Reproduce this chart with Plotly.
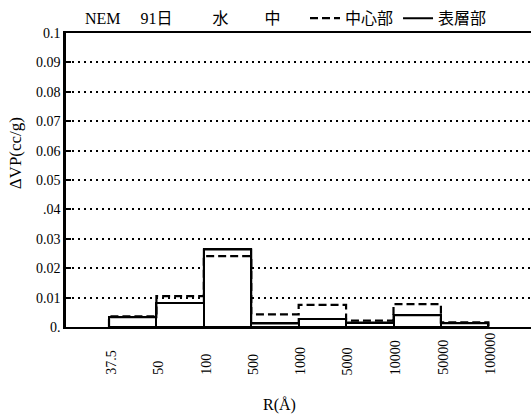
import plotly.graph_objects as go

# Pore-radius bins (boundaries in Å) and pore volume increments per bin
r_labels = ["37.5", "50", "100", "500", "1000", "5000", "10000", "50000", "100000"]
surface_dvp = [0.0033, 0.0082, 0.0264, 0.0012, 0.0027, 0.0015, 0.0040, 0.0013]  # 表層部
core_dvp = [0.0036, 0.0105, 0.0241, 0.0043, 0.0075, 0.0022, 0.0078, 0.0016]     # 中心部

y_tickvals = [0, 0.01, 0.02, 0.03, 0.04, 0.05, 0.06, 0.07, 0.08, 0.09, 0.1]
y_ticktext = ["0.", "0.01", "0.02", "0.03", ".04", "0.05", "0.06", "0.07", "0.08", "0.09", "0.1"]

SERIF = "Liberation Serif, Noto Sans CJK JP, serif"
n_bins = len(surface_dvp)
edges = list(range(n_bins + 1))
centers = [i + 0.5 for i in range(n_bins)]


def step_outline(values):
    # outline of a histogram: up at the first edge, across each bin, down at the last edge
    xs = [edges[0]] + edges[:-1] + [edges[-1]]
    ys = [0] + list(values) + [0]
    return xs, ys


fig = go.Figure()

# hollow bars (white fill hides the grid behind them)
fig.add_trace(go.Bar(
    x=centers, y=surface_dvp, width=1,
    marker=dict(color="white", line=dict(color="black", width=2)),
    showlegend=False, hoverinfo="skip",
))

cx, cy = step_outline(core_dvp)
fig.add_trace(go.Scatter(
    x=cx, y=cy, mode="lines", line_shape="hv", name="中心部",
    line=dict(color="black", width=2.2, dash="8px,4px"),
))

sx, sy = step_outline(surface_dvp)
fig.add_trace(go.Scatter(
    x=sx, y=sy, mode="lines", line_shape="hv", name="表層部",
    line=dict(color="black", width=2),
))

# x labels sit at the bin boundaries, rotated, bottom-aligned
for i, lab in enumerate(r_labels):
    fig.add_annotation(
        x=edges[i] + 0.05, y=-0.17, xref="x", yref="paper",
        text=lab, textangle=-90, showarrow=False,
        xanchor="center", yanchor="bottom",
        font=dict(family=SERIF, size=14, color="black"),
    )

fig.add_annotation(
    x=0.46, y=-0.266, xref="paper", yref="paper", text="R(Å)",
    showarrow=False, xanchor="center", yanchor="middle",
    font=dict(family=SERIF, size=16, color="black"),
)
fig.add_annotation(
    x=-0.108, y=0.59, xref="paper", yref="paper", text="ΔVP(cc/g)",
    textangle=-90, showarrow=False, xanchor="center", yanchor="middle",
    font=dict(family=SERIF, size=17, color="black"),
)
fig.add_annotation(
    x=0.037, y=1.05, xref="paper", yref="paper",
    text="NEM\u00a0\u00a0\u00a0\u00a0\u00a091日\u3000\u3000\u00a0\u00a0水\u3000\u3000\u00a0中",
    showarrow=False, xanchor="left", yanchor="middle",
    font=dict(family=SERIF, size=16, color="black"),
)

fig.update_layout(
    width=531, height=417,
    margin=dict(l=66, r=0, t=33, b=90),
    paper_bgcolor="white", plot_bgcolor="white",
    bargap=0,
    font=dict(family=SERIF, size=14, color="black"),
    legend=dict(
        orientation="h", x=0.514, y=1.05, xanchor="left", yanchor="middle",
        font=dict(family=SERIF, size=16, color="black"),
        bgcolor="rgba(0,0,0,0)", itemwidth=30, tracegroupgap=0,
    ),
    xaxis=dict(
        range=[-0.907, 8.9], showgrid=False, zeroline=False,
        showticklabels=False, ticks="",
        showline=True, linecolor="black", linewidth=2, mirror=True,
    ),
    yaxis=dict(
        range=[0, 0.1], tickvals=y_tickvals, ticktext=y_ticktext,
        ticks="inside", ticklen=5, tickwidth=2, tickcolor="black",
        showgrid=True, gridcolor="black", gridwidth=1.5, griddash="2px,4px",
        zeroline=False, showline=True, linecolor="black", linewidth=2.5,
        tickfont=dict(family=SERIF, size=14, color="black"),
    ),
)

fig.write_html("out.html")
